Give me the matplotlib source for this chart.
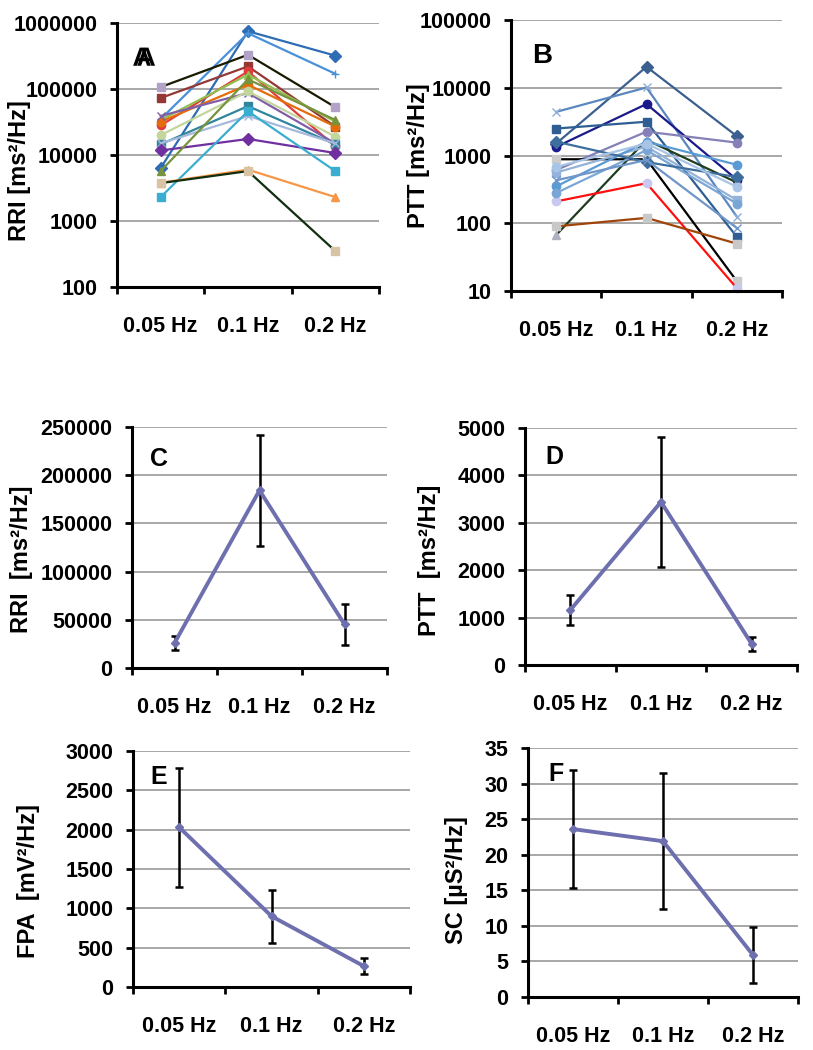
import numpy as np
import matplotlib.pyplot as plt
import matplotlib.patheffects as pe

plt.rcParams['font.family'] = ['Liberation Sans', 'DejaVu Sans']

# Данные
freqs = ['0.05 Hz', '0.1 Hz', '0.2 Hz']

# A: RRI, отдельные испытуемые
rri_subjects = [
    [6350, 750000, 320000],
    [35000, 700000, 170000],
    [107000, 330000, 53000],
    [73000, 220000, 27000],
    [28000, 185000, 13500],
    [34000, 165000, 32000],
    [32000, 116000, 27000],
    [39000, 87000, 15000],
    [20000, 92000, 19000],
    [14500, 55000, 14500],
    [15000, 39000, 15000],
    [11700, 17500, 10700],
    [5700, 140000, 34000],
    [2300, 46000, 5700],
    [3800, 6000, 2300],
    [3750, 5700, 350],
]

# B: PTT, отдельные испытуемые
ptt_subjects = [
    [1500, 20400, 1930],
    [4400, 10100, 125],
    [1340, 5750, 440],
    [2500, 3150, 63],
    [610, 2250, 1550],
    [880, 880, 14],
    [67, 1700, 400],
    [210, 390, 11],
    [90, 120, 50],
    [560, 1350, 220],
    [350, 1600, 730],
    [280, 1200, 195],
    [1600, 800, 480],
    [430, 860, 85],
    [680, 1500, 345],
]

# C-F: средние и ошибки
rri_mean = [25900, 184300, 45300]
rri_err = [7300, 57700, 21000]
ptt_mean = [1160, 3440, 445]
ptt_err = [310, 1370, 150]
fpa_mean = [2030, 900, 265]
fpa_err = [760, 335, 105]
sc_mean = [23.6, 21.9, 5.9]
sc_err = [8.3, 9.6, 3.9]

# Стили линий
a_styles = [
    ('#2E6DB4', '#2E6DB4', 'D'), ('#4A90D9', '#4A90D9', '+'),
    ('#1A1A00', '#B3A2C7', 's'), ('#953735', '#953735', 's'),
    ('#E03C3C', '#E03C3C', 'o'), ('#92C050', '#92C050', '^'),
    ('#E46C0A', '#E46C0A', 'o'), ('#7F5FA8', '#7F5FA8', 'x'),
    ('#C3D69B', '#C3D69B', 'o'), ('#31859C', '#31859C', 's'),
    ('#A6B9DC', '#A6B9DC', 'x'), ('#7030A0', '#7030A0', 'D'),
    ('#77933C', '#77933C', '^'), ('#3AAED0', '#3AAED0', 's'),
    ('#F79646', '#F79646', '^'), ('#0F2F0F', '#D9C3A5', 's'),
]
b_styles = [
    ('#3B5F8F', '#3B5F8F', 'D'), ('#5A88BE', '#8FB0DA', 'x'),
    ('#1A1A8C', '#1A1A8C', 'o'), ('#2F5E93', '#2F5E93', 's'),
    ('#8580B8', '#8580B8', 'o'), ('#000000', '#CCCCCC', 's'),
    ('#1E3D1E', '#B0B0C0', '^'), ('#FF1010', '#C8C8F0', 'o'),
    ('#A0450A', '#C8C8C8', 's'), ('#93B3DA', '#93B3DA', 's'),
    ('#5B9BD5', '#5B9BD5', 'o'), ('#7AA6D6', '#7AA6D6', 'o'),
    ('#3E6E9E', '#3E6E9E', 'D'), ('#6E96C8', '#6E96C8', 'x'),
    ('#A8C4E6', '#A8C4E6', 'o'), ]

W, H = 813, 1050


def pos(l, r, t, b):
    return [l / W, 1 - b / H, (r - l) / W, (b - t) / H]


def style(ax, ylabel, lab_x, lab_y):
    for s in ['top', 'right']:
        ax.spines[s].set_visible(False)
    for s in ['left', 'bottom']:
        ax.spines[s].set_linewidth(2.2)
    ax.set_xlim(0, 3)
    ax.set_xticks([0, 1, 2, 3])
    ax.set_xticklabels([])
    ax.set_xticks([0.5, 1.5, 2.5], minor=True)
    ax.set_xticklabels(freqs, minor=True, fontsize=15.5, fontweight='bold')
    ax.tick_params(axis='x', which='minor', length=0, pad=21)
    ax.tick_params(axis='x', which='major', length=5, width=2, direction='out')
    ax.tick_params(axis='y', which='major', length=5, width=2, pad=9, labelsize=15.5)
    ax.tick_params(axis='y', which='minor', length=0)
    for t in ax.get_yticklabels():
        t.set_fontweight('bold')
    ax.yaxis.grid(True, color='#A0A0A0', linewidth=1.3)
    ax.set_axisbelow(True)
    ax.set_ylabel(ylabel, fontsize=17, fontweight='bold')
    ax.yaxis.set_label_coords(lab_x, lab_y)


def letter(ax, txt, lx, ly, size, effects=None):
    ax.text(lx, ly, txt, transform=ax.transAxes, fontsize=size,
            fontweight='bold', va='top', ha='left', path_effects=effects)


fig = plt.figure(figsize=(W / 100, H / 100), dpi=100)
x = np.array([0.5, 1.5, 2.5])

# A
axA = fig.add_axes(pos(117, 379, 23, 287))
axA.set_yscale('log')
axA.set_ylim(100, 1000000)
axA.set_yticks([100, 1000, 10000, 100000, 1000000])
axA.set_yticklabels(['100', '1000', '10000', '100000', '1000000'])
for vals, (lc, mc, mk) in zip(rri_subjects, a_styles):
    axA.plot(x, vals, color=lc, lw=1.6, marker=mk, markersize=6,
             markerfacecolor=mc, markeredgecolor=mc, clip_on=False)
style(axA, 'RRI [ms²/Hz]', -0.33, 0.44)
# "A" с двойным контуром, как в оригинале
letter(axA, 'A', 0.075, 0.91, 19,
       [pe.withSimplePatchShadow(offset=(-3, 0), shadow_rgbFace='black', alpha=1.0)])

# B
axB = fig.add_axes(pos(511, 782, 20, 291))
axB.set_yscale('log')
axB.set_ylim(10, 100000)
axB.set_yticks([10, 100, 1000, 10000, 100000])
axB.set_yticklabels(['10', '100', '1000', '10000', '100000'])
for vals, (lc, mc, mk) in zip(ptt_subjects, b_styles):
    axB.plot(x, vals, color=lc, lw=1.6, marker=mk, markersize=6,
             markerfacecolor=mc, markeredgecolor=mc, clip_on=False)
style(axB, 'PTT [ms²/Hz]', -0.30, 0.5)
letter(axB, 'B', 0.077, 0.915, 20)

# C-F
mean_color = '#6E6FAE'
panels = [
    (pos(132, 387, 427, 668), rri_mean, rri_err, 250000, 50000,
     'RRI  [ms²/Hz]', -0.39, 0.45, 'C', 0.07, 0.917),
    (pos(525, 797, 428, 665), ptt_mean, ptt_err, 5000, 1000,
     'PTT  [ms²/Hz]', -0.31, 0.44, 'D', 0.074, 0.928),
    (pos(133, 410, 751, 987), fpa_mean, fpa_err, 3000, 500,
     'FPA  [mV²/Hz]', -0.335, 0.45, 'E', 0.061, 0.94),
    (pos(528, 798, 748, 997), sc_mean, sc_err, 35, 5,
     'SC [µS²/Hz]', -0.222, 0.47, 'F', 0.074, 0.944),
]
for p, m, e, top, step, yl, lxx, lyy, let, tx, ty in panels:
    ax = fig.add_axes(p)
    ax.errorbar(x, m, yerr=e, fmt='none', ecolor='black', elinewidth=1.8,
                capsize=3, capthick=1.8, zorder=2)
    ax.plot(x, m, color=mean_color, lw=2.8, marker='D', markersize=4, zorder=3)
    ax.set_ylim(0, top)
    ax.set_yticks(np.arange(0, top + step, step))
    style(ax, yl, lxx, lyy)
    letter(ax, let, tx, ty, 18)

plt.savefig('out.png', dpi=100)
